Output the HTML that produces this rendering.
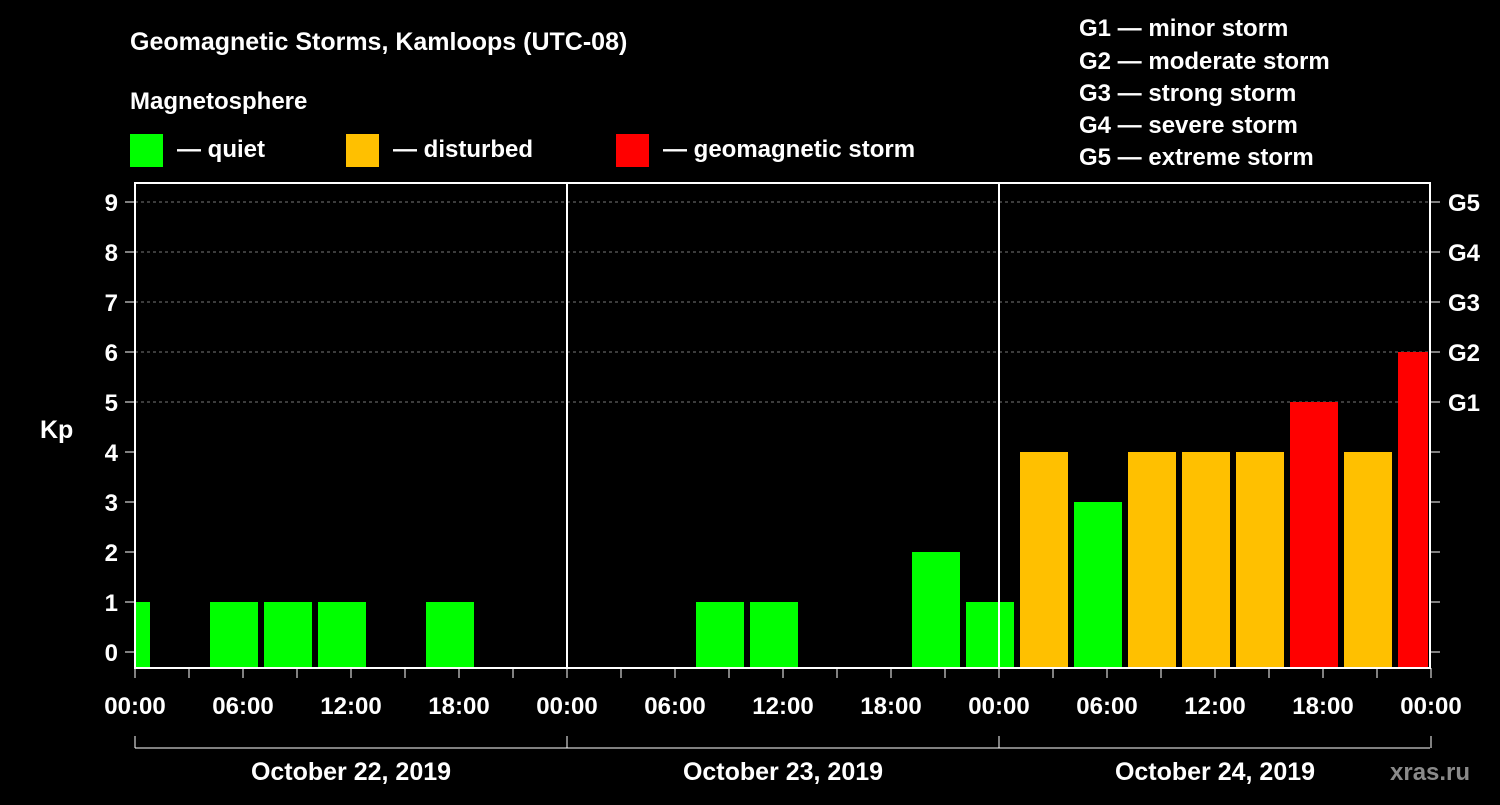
<!DOCTYPE html>
<html><head><meta charset="utf-8"><style>
body{margin:0;background:#000;width:1500px;height:800px;overflow:hidden}
svg text{font-family:"Liberation Sans",sans-serif;font-weight:bold;fill:#fff}
</style></head><body>
<svg id="c" width="1500" height="800">
<text x="130" y="50" font-size="25">Geomagnetic Storms, Kamloops (UTC-08)</text>
<text x="130" y="109" font-size="24">Magnetosphere</text>
<g><rect x="130" y="134" width="33" height="33" fill="#00ff00"/><text x="177" y="157" font-size="24">— quiet</text></g>
<g><rect x="346" y="134" width="33" height="33" fill="#ffc000"/><text x="393" y="157" font-size="24">— disturbed</text></g>
<g><rect x="616" y="134" width="33" height="33" fill="#ff0000"/><text x="663" y="157" font-size="24">— geomagnetic storm</text></g>
<g font-size="24">
<text x="1079" y="36">G1 — minor storm</text>
<text x="1079" y="69">G2 — moderate storm</text>
<text x="1079" y="101">G3 — strong storm</text>
<text x="1079" y="133">G4 — severe storm</text>
<text x="1079" y="165">G5 — extreme storm</text>
</g>
<text x="40" y="438" font-size="25">Kp</text>
<text x="1390" y="780" font-size="24" fill="#888" style="fill:#8a8a8a">xras.ru</text>
<g id="plot"></g>
</svg>
<script>
const binStartHours=[-2,1,4,7,10,13,16,19,22,25,28,31,34,37,40,43,46,49,52,55,58,61,64,67,70];
const kpValues=[1,0,1,1,1,0,1,0,0,0,0,1,1,0,0,2,1,4,3,4,4,4,5,4,6];
const xTickLabels=["00:00","06:00","12:00","18:00","00:00","06:00","12:00","18:00","00:00","06:00","12:00","18:00","00:00"];
const dayLabels=["October 22, 2019","October 23, 2019","October 24, 2019"];
const gLabels=["G1","G2","G3","G4","G5"];
const NS="http://www.w3.org/2000/svg";
const X0=135,PXH=18,Y0=652,PXK=50,TOP=183,BOT=668,RIGHT=1430;
const xs=h=>X0+h*PXH, ys=k=>Y0-k*PXK;
const g=document.getElementById('plot');
function mk(t,a){const e=document.createElementNS(NS,t);for(const k in a)e.setAttribute(k,a[k]);g.appendChild(e);return e;}
// gridlines
for(let k=5;k<=9;k++){const l=mk('line',{x1:X0,x2:RIGHT,y1:ys(k),y2:ys(k),stroke:'#777','stroke-dasharray':'3,3','stroke-width':1});

}
// bars
binStartHours.forEach((h,i)=>{const v=kpValues[i];if(v<=0)return;
let x1=Math.max(xs(h)+3,X0+1),x2=Math.min(xs(h+3)-3,RIGHT-2);
const col=v>=5?'#ff0000':(v>=4?'#ffc000':'#00ff00');
const r=mk('rect',{x:x1,y:ys(v),width:x2-x1,height:BOT-ys(v),fill:col});

});
// frame
const f=mk('rect',{x:X0,y:TOP,width:RIGHT-X0,height:BOT-TOP,fill:'none',stroke:'#fff','stroke-width':2});


for(let d=1;d<3;d++){const l=mk('line',{x1:xs(24*d),x2:xs(24*d),y1:TOP,y2:BOT,stroke:'#fff','stroke-width':2});

}
// y ticks & labels
for(let k=0;k<=9;k++){
mk('line',{x1:X0-10,x2:X0,y1:ys(k),y2:ys(k),stroke:'#fff','stroke-width':1});
mk('line',{x1:RIGHT,x2:RIGHT+10,y1:ys(k),y2:ys(k),stroke:'#fff','stroke-width':1});
const t=mk('text',{x:118,y:ys(k)+9,'font-size':24,'text-anchor':'end'});t.textContent=k;

}
gLabels.forEach((s,i)=>{const t=mk('text',{x:1448,y:ys(5+i)+9,'font-size':24});t.textContent=s;

});
// x ticks
for(let h=0;h<=72;h+=3){mk('line',{x1:xs(h),x2:xs(h),y1:BOT,y2:BOT+10,stroke:'#fff','stroke-width':1});}
xTickLabels.forEach((s,i)=>{const t=mk('text',{x:xs(i*6),y:714,'font-size':24,'text-anchor':'middle'});t.textContent=s;

});
// date bracket
mk('line',{x1:X0,x2:RIGHT,y1:748,y2:748,stroke:'#fff','stroke-width':1});
for(let d=0;d<=3;d++)mk('line',{x1:xs(24*d),x2:xs(24*d),y1:736,y2:748,stroke:'#fff','stroke-width':1});
dayLabels.forEach((s,i)=>{const t=mk('text',{x:xs(24*i+12),y:780,'font-size':25,'text-anchor':'middle'});t.textContent=s;

});
</script>
</body></html>
